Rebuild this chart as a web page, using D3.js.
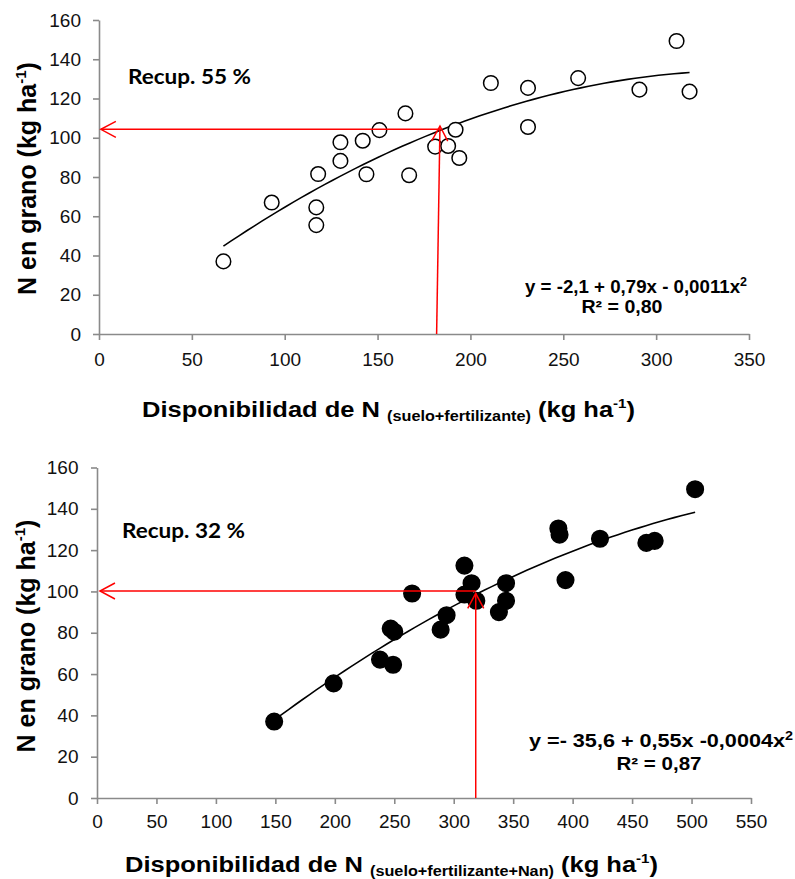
<!DOCTYPE html>
<html>
<head>
<meta charset="utf-8">
<script src="https://cdn.jsdelivr.net/npm/d3@7"></script>
<style>
  body { margin: 0; background: #fff; }
  svg { display: block; }
</style>
</head>
<body>
<script>
// top panel: N disponible (suelo+fertilizante) vs N en grano
const topX = [67, 93, 118, 117, 117, 130, 130, 142, 144, 151, 165, 167, 181, 188, 192, 194, 211, 231, 231, 258, 291, 311, 318];
const topY = [37, 67, 81.5, 64.5, 55.5, 97.7, 88.2, 98.5, 81.4, 103.9, 112.4, 80.9, 95.5, 95.8, 104.1, 89.7, 127.9, 125.4, 105.5, 130.4, 124.5, 149.3, 123.5];

// bottom panel: N disponible (suelo+fertilizante+Nan) vs N en grano
const botX = [149, 199, 238, 247, 250, 249, 265, 289, 294, 309, 309, 315, 319, 338, 344, 344, 388, 389, 394, 423, 462, 469, 503];
const botY = [37, 55.5, 67, 82, 80.5, 64.5, 99, 81.5, 88.5, 112.5, 98.5, 104, 95.5, 90, 104, 95.5, 130.5, 127.5, 105.5, 125.5, 123.5, 124.5, 149.5];

const yTicks = [0, 20, 40, 60, 80, 100, 120, 140, 160];
const topXTicks = [0, 50, 100, 150, 200, 250, 300, 350];
const botXTicks = [0, 50, 100, 150, 200, 250, 300, 350, 400, 450, 500, 550];

const topRecup = 'Recup. 55 %';
const botRecup = 'Recup. 32 %';
// equation text, exponent, r2 line
const topEq = ['y = -2,1 + 0,79x - 0,0011x', '2', 'R² = 0,80'];
const botEq = ['y =- 35,6  + 0,55x  -0,0004x', '2', 'R² = 0,87'];
const topSub = '(suelo+fertilizante)';
const botSub = '(suelo+fertilizante+Nan)';

// red reading lines, in data units: [x0, y0, x1, y1]
const topArrows = [[183.5, 104.3, 1, 104.3], [181.8, 0, 183.6, 106]];
const botArrows = [[318.5, 100.2, 2.5, 100.2], [318.5, 0, 318.5, 99.1]];

const svg = d3.select('body').append('svg')
  .attr('width', 795)
  .attr('height', 879);

svg.append('defs').append('marker')
  .attr('id', 'arr')
  .attr('viewBox', '-17 -10 19 20')
  .attr('refX', 0)
  .attr('refY', 0)
  .attr('markerWidth', 19)
  .attr('markerHeight', 20)
  .attr('markerUnits', 'userSpaceOnUse')
  .attr('orient', 'auto')
  .append('path')
  .attr('d', 'M-15,-8L0,0L-15,8')
  .attr('fill', 'none')
  .attr('stroke', '#ff0000')
  .attr('stroke-width', 1.5);

// least squares 2nd order polynomial, like the excel trendline
const quadFit = (xs, ys) => {
  const s = [0, 0, 0, 0, 0];
  const t = [0, 0, 0];
  xs.forEach((x, i) => {
    for (let k = 0; k < 5; k++) s[k] += Math.pow(x, k);
    for (let k = 0; k < 3; k++) t[k] += ys[i] * Math.pow(x, k);
  });
  const m = [
    [s[0], s[1], s[2], t[0]],
    [s[1], s[2], s[3], t[1]],
    [s[2], s[3], s[4], t[2]]
  ];
  for (let c = 0; c < 3; c++) {
    for (let r = c + 1; r < 3; r++) {
      const f = m[r][c] / m[c][c];
      for (let k = c; k < 4; k++) m[r][k] -= f * m[c][k];
    }
  }
  const b = [0, 0, 0];
  for (let r = 2; r >= 0; r--) {
    let v = m[r][3];
    for (let k = r + 1; k < 3; k++) v -= m[r][k] * b[k];
    b[r] = v / m[r][r];
  }
  return (x) => b[0] + b[1] * x + b[2] * x * x;
};

const drawPanel = (p) => {
  const g = svg.append('g');
  const x = d3.scaleLinear().domain(p.xDomain).range(p.xRange);
  const y = d3.scaleLinear().domain([0, 160]).range(p.yRange);

  const xAxis = g.append('g')
    .attr('transform', 'translate(0,' + p.yRange[0] + ')')
    .call(d3.axisBottom(x).tickValues(p.xTicks).tickSize(6).tickSizeOuter(0).tickPadding(p.xPad));
  const yAxis = g.append('g')
    .attr('transform', 'translate(' + p.xRange[0] + ',0)')
    .call(d3.axisLeft(y).tickValues(yTicks).tickSize(6).tickSizeOuter(0).tickPadding(p.yPad));

  [xAxis, yAxis].forEach((a) => {
    a.attr('font-family', 'Liberation Sans, Arial, sans-serif').attr('font-size', 19);
    a.select('.domain').attr('stroke', '#8a8a8a').attr('stroke-width', 1.6);
    a.selectAll('.tick line').attr('stroke', '#8a8a8a').attr('stroke-width', 1.6);
    a.selectAll('.tick text').attr('fill', '#111');
  });

  // trendline over the range of the data
  const f = quadFit(p.xs, p.ys);
  const lo = d3.min(p.xs);
  const hi = d3.max(p.xs);
  const curve = d3.range(0, 61).map((i) => lo + (hi - lo) * i / 60);
  g.append('path')
    .attr('d', d3.line().x((d) => x(d)).y((d) => y(f(d)))(curve))
    .attr('fill', 'none')
    .attr('stroke', '#000')
    .attr('stroke-width', 1.6);

  g.selectAll('circle.pt')
    .data(p.xs.map((d, i) => [d, p.ys[i]]))
    .join('circle')
    .attr('class', 'pt')
    .attr('cx', (d) => x(d[0]))
    .attr('cy', (d) => y(d[1]))
    .attr('r', p.filled ? 8.3 : 7.3)
    .attr('fill', p.filled ? '#000' : '#fff')
    .attr('stroke', '#000')
    .attr('stroke-width', 1.5);

  p.arrows.forEach((a) => {
    g.append('line')
      .attr('x1', x(a[0]))
      .attr('y1', y(a[1]))
      .attr('x2', x(a[2]))
      .attr('y2', y(a[3]))
      .attr('stroke', '#ff0000')
      .attr('stroke-width', 1.5)
      .attr('marker-end', 'url(#arr)');
  });

  g.append('text')
    .attr('x', p.recupPos[0])
    .attr('y', p.recupPos[1])
    .attr('font-family', 'Lato, Open Sans, sans-serif')
    .attr('font-weight', 700)
    .attr('font-size', 21)
    .attr('textLength', 123)
    .attr('lengthAdjust', 'spacingAndGlyphs')
    .text(p.recup);

  const eqFont = (s) => s
    .attr('text-anchor', 'middle')
    .attr('font-family', 'Liberation Sans, Arial, sans-serif')
    .attr('font-weight', 700)
    .attr('font-size', 18)
    .attr('lengthAdjust', 'spacingAndGlyphs');

  const e1 = g.append('text')
    .attr('x', p.eqPos[0][0])
    .attr('y', p.eqPos[0][1])
    .attr('textLength', p.eqPos[0][2])
    .call(eqFont);
  e1.append('tspan').text(p.eq[0]);
  e1.append('tspan').attr('font-size', 12).attr('dy', -7).text(p.eq[1]);

  g.append('text')
    .attr('x', p.eqPos[1][0])
    .attr('y', p.eqPos[1][1])
    .attr('textLength', p.eqPos[1][2])
    .call(eqFont)
    .text(p.eq[2]);

  // y title
  const yt = g.append('text')
    .attr('transform', 'translate(' + p.yTitle[0] + ',' + p.yTitle[1] + ') rotate(-90)')
    .attr('text-anchor', 'middle')
    .attr('font-family', 'Liberation Sans, Arial, sans-serif')
    .attr('font-weight', 700)
    .attr('font-size', 25);
  yt.append('tspan').text('N en grano (kg ha');
  yt.append('tspan').attr('font-size', 15).attr('dy', -10).text('-1');
  yt.append('tspan').attr('dy', 10).text(')');

  // x title
  const xt = g.append('text')
    .attr('x', p.xTitle[0])
    .attr('y', p.xTitle[1])
    .attr('font-family', 'Liberation Sans, Arial, sans-serif')
    .attr('font-weight', 700)
    .attr('font-size', 22)
    .attr('textLength', p.xTitle[2])
    .attr('lengthAdjust', 'spacingAndGlyphs');
  xt.append('tspan').text('Disponibilidad de N ');
  xt.append('tspan').attr('font-size', 14).attr('dy', 4).text(p.sub);
  xt.append('tspan').attr('dy', -4).text(' (kg ha');
  xt.append('tspan').attr('font-size', 13).attr('dy', -9).text('-1');
  xt.append('tspan').attr('dy', 9).text(')');
};

drawPanel({
  xs: topX,
  ys: topY,
  xDomain: [0, 350],
  xRange: [99, 749],
  yRange: [334, 20],
  xTicks: topXTicks,
  xPad: 13,
  yPad: 12,
  filled: false,
  arrows: topArrows,
  recup: topRecup,
  recupPos: [128, 84],
  eq: topEq,
  eqPos: [[636, 293, 222], [622, 312.5, 81]],
  yTitle: [36, 178.5],
  xTitle: [142, 417, 493],
  sub: topSub
});

drawPanel({
  xs: botX,
  ys: botY,
  xDomain: [0, 550],
  xRange: [97, 751],
  yRange: [798, 467.5],
  xTicks: botXTicks,
  xPad: 11,
  yPad: 12.5,
  filled: true,
  arrows: botArrows,
  recup: botRecup,
  recupPos: [122, 537.5],
  eq: botEq,
  eqPos: [[661, 746.5, 264], [659, 770, 85]],
  yTitle: [35, 636],
  xTitle: [125, 871.5, 533],
  sub: botSub
});
</script>
</body>
</html>
